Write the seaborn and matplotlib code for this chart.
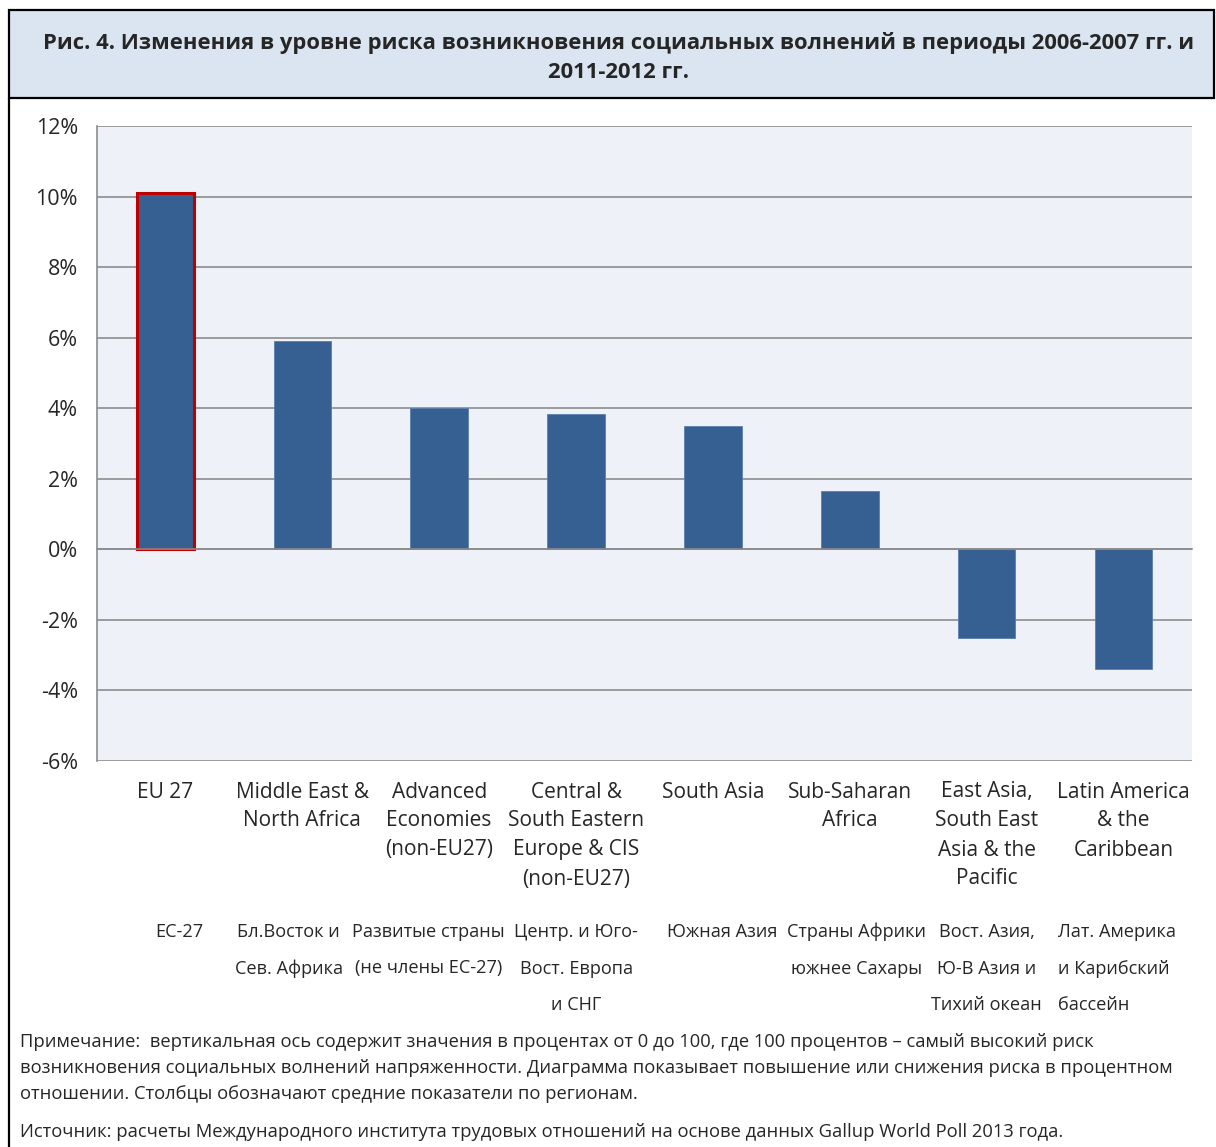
import matplotlib
matplotlib.use("Agg")
import matplotlib.pyplot as plt
import matplotlib.transforms as mtransforms
from matplotlib.patches import Rectangle
from matplotlib.lines import Line2D
import pandas as pd
import seaborn as sns

# --- data ---
regions_en = ["EU 27", "Middle East &\nNorth Africa", "Advanced\nEconomies\n(non-EU27)",
              "Central &\nSouth Eastern\nEurope & CIS\n(non-EU27)", "South Asia",
              "Sub-Saharan\nAfrica", "East Asia,\nSouth East\nAsia & the\nPacific",
              "Latin America\n& the\nCaribbean"]
regions_ru = [["ЕС-27"], ["Бл.Восток и", "Сев. Африка"], ["Развитые страны", "(не члены ЕС-27)"],
              ["Центр. и Юго-", "Вост. Европа", "и СНГ"], ["Южная Азия"],
              ["Страны Африки", "южнее Сахары"], ["Вост. Азия,", "Ю-В Азия и", "Тихий океан"],
              ["Лат. Америка", "и Карибский", "бассейн"]]
change_pct = [10.1, 5.9, 4.0, 3.85, 3.5, 1.65, -2.5, -3.4]
yticks = [-6, -4, -2, 0, 2, 4, 6, 8, 10, 12]

title = ("Рис. 4. Изменения в уровне риска возникновения социальных волнений в периоды 2006-2007 гг. и\n"
         "2011-2012 гг.")
note_lines = ["Примечание:  вертикальная ось содержит значения в процентах от 0 до 100, где 100 процентов – самый высокий риск",
              "возникновения социальных волнений напряженности. Диаграмма показывает повышение или снижения риска в процентном",
              "отношении. Столбцы обозначают средние показатели по регионам."]
source = "Источник: расчеты Международного института трудовых отношений на основе данных Gallup World Poll 2013 года."

df = pd.DataFrame({"region": [r.split("\n")[0] for r in regions_en], "change": change_pct})

sns.set_style("white")
plt.rcParams["font.family"] = ["Open Sans", "DejaVu Sans"]

W, H = 1216, 1147
fig = plt.figure(figsize=(W / 100, H / 100), dpi=100)


def fy(py):
    return 1 - py / H


# title box and frame
fig.patches.append(Rectangle((9 / W, fy(98)), (1214 - 9) / W, (98 - 10) / H,
                             transform=fig.transFigure, facecolor="#dbe5f1",
                             edgecolor="black", linewidth=1.6))
fig.lines.append(Line2D([9 / W, 9 / W], [fy(98), 0], transform=fig.transFigure,
                        color="black", linewidth=1.6))
fig.text(619 / W, fy(58), title, ha="center", va="center", fontsize=15.8,
         fontweight="bold", linespacing=1.5)

ax = fig.add_axes([97 / W, fy(761), (1192 - 97) / W, (761 - 126) / H])
ax.set_facecolor("#eef2f8")

sns.barplot(data=df, x="region", y="change", color="#366092", width=0.42,
            saturation=1, edgecolor="#5b7fae", linewidth=0.6, ax=ax)
eu_bar = ax.patches[0]
eu_bar.set_edgecolor("#c00000")
eu_bar.set_linewidth(2.2)

ax.set_ylim(-6, 12)
ax.set_xlim(-0.5, len(change_pct) - 0.5)
ax.set_yticks(yticks)
ax.set_yticklabels([f"{t}%" for t in yticks], fontsize=15.5)
ax.yaxis.grid(True, color="#8c8c8c", linewidth=1.2)
ax.set_axisbelow(True)
ax.tick_params(axis="y", length=5.8, color="#8c8c8c", width=1.2, pad=8)

# category axis crosses at zero, ticks between categories
for s in ["top", "right"]:
    ax.spines[s].set_visible(False)
ax.spines["left"].set_color("#8c8c8c")
ax.spines["left"].set_linewidth(1.2)
ax.spines["bottom"].set_position(("data", 0))
ax.spines["bottom"].set_color("#8c8c8c")
ax.spines["bottom"].set_linewidth(1.2)
ax.set_xticks([i + 0.5 for i in range(len(change_pct))])
ax.tick_params(axis="x", length=4.5, color="#8c8c8c", width=1.2, labelbottom=False)
ax.set_xlabel("")
ax.set_ylabel("")

# category labels below the plot
trans = mtransforms.blended_transform_factory(ax.transData, fig.transFigure)
for i, lab in enumerate(regions_en):
    for j, line in enumerate(lab.split("\n")):
        ax.text(i, fy(792 + 29 * j), line, transform=trans, ha="center",
                va="center", fontsize=15, clip_on=False)

# russian labels sit roughly under each column (last one is left aligned)
ru_dx = [0.1, -0.1, -0.08, 0.0, 0.07, 0.05, 0.0, -0.48]
ru_ha = ["center"] * 7 + ["left"]
for i, lines in enumerate(regions_ru):
    for j, line in enumerate(lines):
        ax.text(i + ru_dx[i], fy(932 + 36.5 * j), line, transform=trans,
                ha=ru_ha[i], va="center", fontsize=13.1, clip_on=False)

for j, line in enumerate(note_lines):
    fig.text(20 / W, fy(1042 + 26 * j), line, ha="left", va="center", fontsize=13.2)
fig.text(20 / W, fy(1132), source, ha="left", va="center", fontsize=13.2)

fig.savefig("out.png", dpi=100)
